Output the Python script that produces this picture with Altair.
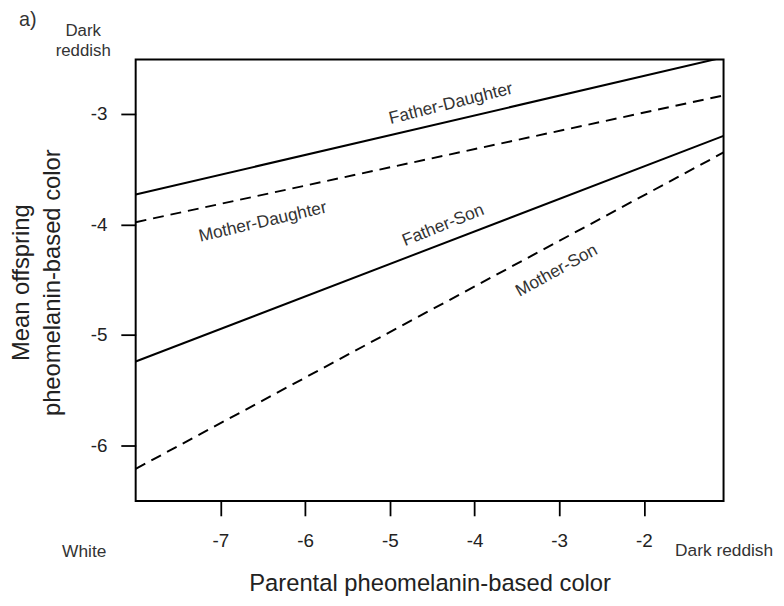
import altair as alt
import pandas as pd

# ---- data ----
series = ["Father-Daughter", "Mother-Daughter", "Father-Son", "Mother-Son"]
parental_x = [-8.0, -1.06]
offspring_start = [-3.73, -3.98, -5.24, -6.21]
offspring_end = [-2.49, -2.835, -3.20, -3.35]
line_type = ["solid", "dashed", "solid", "dashed"]

label_x = [-4.28, -6.50, -4.37, -3.03]
label_y = [-2.91, -3.98, -4.01, -4.42]
label_angle = [346, 347, 338, 331]

x_ticks = [-7, -6, -5, -4, -3, -2]
y_ticks = [-6, -5, -4, -3]

FONT = "Liberation Sans"

rows = []
for s, y0, y1, lt in zip(series, offspring_start, offspring_end, line_type):
    rows.append({"series": s, "x": parental_x[0], "y": y0, "type": lt})
    rows.append({"series": s, "x": parental_x[1], "y": y1, "type": lt})
lines_df = pd.DataFrame(rows)

labels_df = pd.DataFrame({"series": series, "x": label_x, "y": label_y, "angle": label_angle})

W, H = 594, 446

xscale = alt.Scale(domain=[-8.0, -1.06], nice=False, zero=False)
yscale = alt.Scale(domain=[-6.5, -2.51], nice=False, zero=False)

xaxis = alt.Axis(values=x_ticks, title="Parental pheomelanin-based color", grid=False,
                 domain=False, tickSize=15, tickWidth=1.8, tickColor="black",
                 labelExpr="'' + datum.value",
                 labelPadding=16, labelFontSize=19, labelColor="#222", labelFont=FONT,
                 titleFontSize=24, titleFont=FONT, titleFontWeight="normal", titleColor="#222",
                 titleY=90, titleBaseline="alphabetic")
yaxis = alt.Axis(values=y_ticks, title=["Mean offspring", "pheomelanin-based color"], grid=False,
                 domain=False, tickSize=15, tickWidth=1.8, tickColor="black",
                 labelExpr="'' + datum.value",
                 labelPadding=14, labelFontSize=19, labelColor="#222", labelFont=FONT,
                 titleFontSize=24, titleFont=FONT, titleFontWeight="normal", titleColor="#222",
                 titleAngle=270, titleX=-108, titleY=225, titleAlign="center",
                 titleBaseline="alphabetic", titleLineHeight=31)

solid = alt.Chart(lines_df).transform_filter(alt.datum.type == "solid").mark_line(
    color="black", strokeWidth=2, clip=True
).encode(
    x=alt.X("x:Q", scale=xscale, axis=xaxis),
    y=alt.Y("y:Q", scale=yscale, axis=yaxis),
    detail="series:N",
)

dashed = alt.Chart(lines_df).transform_filter(alt.datum.type == "dashed").mark_line(
    color="black", strokeWidth=2, strokeDash=[11, 7], clip=True
).encode(
    x=alt.X("x:Q", scale=xscale),
    y=alt.Y("y:Q", scale=yscale),
    detail="series:N",
)

labels = alt.Chart(labels_df).mark_text(
    font=FONT, fontSize=17.5, color="#333", align="center", baseline="middle"
).encode(
    x=alt.X("x:Q", scale=xscale),
    y=alt.Y("y:Q", scale=yscale),
    text="series:N",
    angle=alt.Angle("angle:Q", scale=None),
)

def annot(txt, x, y, size, align="center"):
    return alt.Chart(pd.DataFrame({"t": [txt]})).mark_text(
        font=FONT, fontSize=size, color="#333", align=align, baseline="alphabetic"
    ).encode(x=alt.value(x), y=alt.value(y), text="t:N")

a_lbl = annot("a)", -109, -34, 20)
dark1 = annot("Dark", -53, -24, 17)
dark2 = annot("reddish", -53, -4, 17)
white = annot("White", -52, 503, 17.5)
dark_b = annot("Dark reddish", 545, 502, 17.5, align="left")

chart = alt.layer(solid, dashed, labels, a_lbl, dark1, dark2, white, dark_b).properties(
    width=W, height=H,
    autosize=alt.AutoSizeParams(type="none"),
    padding={"left": 129, "top": 49, "right": 53, "bottom": 95},
).configure_view(stroke="black", strokeWidth=2)

chart.save("out.html", embed_options={"renderer": "svg", "actions": False})
